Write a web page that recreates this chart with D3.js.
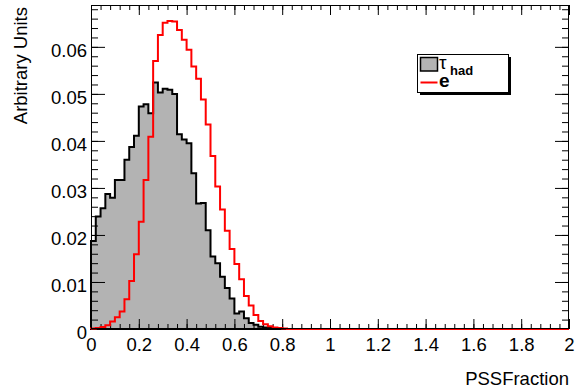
<!DOCTYPE html>
<html>
<head>
<meta charset="utf-8">
<script src="https://d3js.org/d3.v7.min.js"></script>
<style>
  body { margin: 0; background: #fff; }
  text { font-family: "Liberation Sans", Arial, Helvetica, sans-serif; }
</style>
</head>
<body>
<div id="chart"></div>
<script>
// binning: 100 bins, 0 to 2
var xMin = 0, xMax = 2, nBins = 100;

// tau_had (grey filled)
var tauVals = [
  0.0187, 0.0239, 0.0257, 0.0287, 0.0279, 0.0317, 0.0317, 0.0360, 0.0387, 0.0411,
  0.0473, 0.0478, 0.0459, 0.0524, 0.0503, 0.0511, 0.0509, 0.0500, 0.0414, 0.0403,
  0.0395, 0.0331, 0.0267, 0.0268, 0.0210, 0.0154, 0.0140, 0.0111, 0.0087, 0.0065,
  0.0033, 0.0037, 0.0023, 0.0013, 0.0009, 0.0005, 0.0003, 0.0002, 0.0001, 0.0001,
  0, 0, 0, 0, 0, 0, 0, 0, 0, 0,
  0, 0, 0, 0, 0, 0, 0, 0, 0, 0,
  0, 0, 0, 0, 0, 0, 0, 0, 0, 0,
  0, 0, 0, 0, 0, 0, 0, 0, 0, 0,
  0, 0, 0, 0, 0, 0, 0, 0, 0, 0,
  0, 0, 0, 0, 0, 0, 0, 0, 0, 0
];

// electrons (red line)
var eleVals = [
  0.0001, 0.0002, 0.0004, 0.0008, 0.0016, 0.0025, 0.0037, 0.0063, 0.0102, 0.0159,
  0.0228, 0.0317, 0.0409, 0.0570, 0.0625, 0.0651, 0.0655, 0.0654, 0.0636, 0.0615,
  0.0594, 0.0558, 0.0532, 0.0488, 0.0435, 0.0368, 0.0303, 0.0254, 0.0209, 0.0170,
  0.0138, 0.0106, 0.0070, 0.0050, 0.0030, 0.0017, 0.0010, 0.0006, 0.0003, 0.0002,
  0.0001, 0, 0, 0, 0, 0, 0, 0, 0, 0,
  0, 0, 0, 0, 0, 0, 0, 0, 0, 0,
  0, 0, 0, 0, 0, 0, 0, 0, 0, 0,
  0, 0, 0, 0, 0, 0, 0, 0, 0, 0,
  0, 0, 0, 0, 0, 0, 0, 0, 0, 0,
  0, 0, 0, 0, 0, 0, 0, 0, 0, 0
];

var xTicks = [0, 0.2, 0.4, 0.6, 0.8, 1, 1.2, 1.4, 1.6, 1.8, 2];
var yTicks = [0, 0.01, 0.02, 0.03, 0.04, 0.05, 0.06];
var yMax = 0.0689;

var W = 581, H = 392;
var frame = { left: 91, right: 569, top: 5, bottom: 329 };
var fontSize = 18.5;

var svg = d3.select("#chart").append("svg")
  .attr("width", W)
  .attr("height", H);

var x = d3.scaleLinear().domain([xMin, xMax]).range([frame.left, frame.right]);
var y = d3.scaleLinear().domain([0, yMax]).range([frame.bottom, frame.top]);
var binW = (xMax - xMin) / nBins;

// step contour of a histogram
function histPath(vals, closed) {
  var p = d3.path();
  p.moveTo(x(xMin), y(0));
  vals.forEach(function (v, i) {
    p.lineTo(x(xMin + i * binW), y(v));
    p.lineTo(x(xMin + (i + 1) * binW), y(v));
  });
  p.lineTo(x(xMax), y(0));
  if (closed) p.closePath();
  return p.toString();
}

// frame
svg.append("rect")
  .attr("x", frame.left).attr("y", frame.top)
  .attr("width", frame.right - frame.left)
  .attr("height", frame.bottom - frame.top)
  .attr("fill", "#fff");

svg.append("path")
  .attr("d", histPath(tauVals, true))
  .attr("fill", "#b3b3b3")
  .attr("stroke", "#000")
  .attr("stroke-width", 2)
  .attr("stroke-linejoin", "miter");

// axes (ticks inward, on all four sides)
var xMinor = d3.range(0, 81).map(function (i) { return i * 0.04; }).filter(function (d) { return d <= 2.0001; });
var yMinor = d3.range(0, 35).map(function (i) { return i * 0.002; }).filter(function (d) { return d <= yMax; });

var gx = svg.append("g").attr("transform", "translate(0," + frame.bottom + ")")
  .call(d3.axisBottom(x).tickValues(xTicks).tickSize(-10).tickPadding(9)
    .tickFormat(function (d) { return String(+d.toFixed(1)); }));
svg.append("g").attr("transform", "translate(0," + frame.bottom + ")")
  .call(d3.axisBottom(x).tickValues(xMinor).tickSize(-5).tickFormat(""));
svg.append("g").attr("transform", "translate(0," + frame.top + ")")
  .call(d3.axisTop(x).tickValues(xTicks).tickSize(-10).tickFormat(""));
svg.append("g").attr("transform", "translate(0," + frame.top + ")")
  .call(d3.axisTop(x).tickValues(xMinor).tickSize(-5).tickFormat(""));

var gy = svg.append("g").attr("transform", "translate(" + frame.left + ",0)")
  .call(d3.axisLeft(y).tickValues(yTicks).tickSize(-14).tickPadding(4)
    .tickFormat(function (d) { return String(+d.toFixed(2)); }));
svg.append("g").attr("transform", "translate(" + frame.left + ",0)")
  .call(d3.axisLeft(y).tickValues(yMinor).tickSize(-7).tickFormat(""));
svg.append("g").attr("transform", "translate(" + frame.right + ",0)")
  .call(d3.axisRight(y).tickValues(yTicks).tickSize(-14).tickFormat(""));
svg.append("g").attr("transform", "translate(" + frame.right + ",0)")
  .call(d3.axisRight(y).tickValues(yMinor).tickSize(-7).tickFormat(""));

svg.selectAll(".domain").remove();
svg.selectAll(".tick line").attr("stroke", "#000").attr("stroke-width", 1);

gx.selectAll("text")
  .attr("font-size", fontSize)
  .attr("fill", "#000")
  .attr("font-family", "Liberation Sans, Arial, sans-serif");
gy.selectAll("text")
  .attr("font-size", fontSize)
  .attr("fill", "#000")
  .attr("dy", "0.52em")
  .attr("font-family", "Liberation Sans, Arial, sans-serif");

// red line drawn over
svg.append("path")
  .attr("d", histPath(eleVals, false))
  .attr("fill", "none")
  .attr("stroke", "#ff0000")
  .attr("stroke-width", 2);

svg.append("rect")
  .attr("x", frame.left + 0.5).attr("y", frame.top + 0.5)
  .attr("width", frame.right - frame.left - 1)
  .attr("height", frame.bottom - frame.top - 1)
  .attr("fill", "none")
  .attr("stroke", "#000")
  .attr("stroke-width", 1);

// titles
svg.append("text")
  .attr("x", frame.right).attr("y", 385)
  .attr("text-anchor", "end")
  .attr("font-size", fontSize)
  .text("PSSFraction");

svg.append("text")
  .attr("transform", "translate(27,7) rotate(-90)")
  .attr("text-anchor", "end")
  .attr("font-size", fontSize)
  .text("Arbitrary Units");

// legend
var leg = svg.append("g");
leg.append("rect").attr("x", 420).attr("y", 57).attr("width", 91).attr("height", 38).attr("fill", "#000");
leg.append("rect").attr("x", 417.5).attr("y", 54.5).attr("width", 91).attr("height", 38)
  .attr("fill", "#fff").attr("stroke", "#000").attr("stroke-width", 1);
leg.append("rect").attr("x", 420.5).attr("y", 57.5).attr("width", 17).attr("height", 13.5)
  .attr("fill", "#b3b3b3").attr("stroke", "#000").attr("stroke-width", 1.5);
leg.append("line").attr("x1", 420.5).attr("x2", 437.5).attr("y1", 82.5).attr("y2", 82.5)
  .attr("stroke", "#ff0000").attr("stroke-width", 2);
leg.append("text").attr("x", 439).attr("y", 69)
  .attr("font-size", 19).attr("font-family", "Liberation Serif, serif").text("τ");
leg.append("text").attr("x", 450).attr("y", 75)
  .attr("font-size", 13).attr("font-weight", "bold").text("had");
leg.append("text").attr("x", 439).attr("y", 86.5)
  .attr("font-size", 19).attr("font-weight", "bold").text("e");
</script>
</body>
</html>
